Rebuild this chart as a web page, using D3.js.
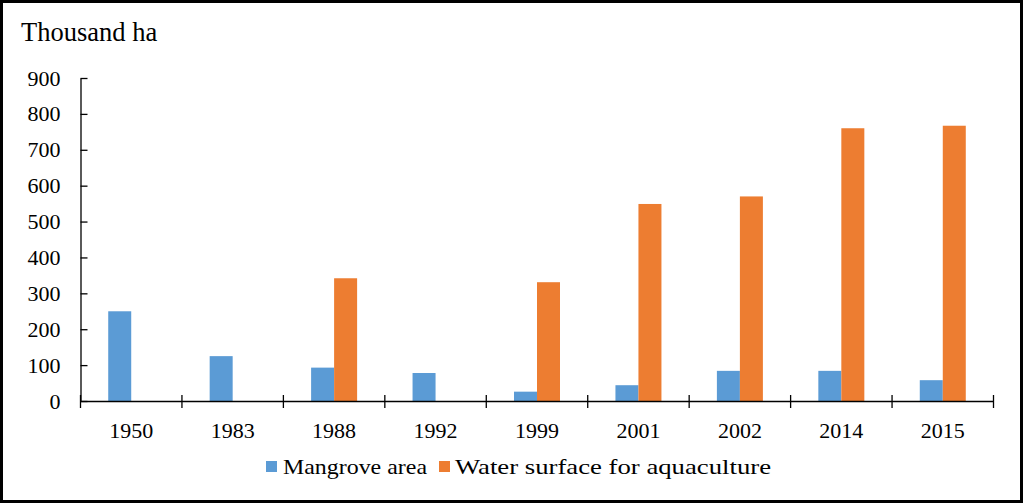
<!DOCTYPE html>
<html><head><meta charset="utf-8">
<script src="https://cdn.jsdelivr.net/npm/d3@7"></script>
<style>body{margin:0;background:#fff}svg{display:block}
text{font-family:"Liberation Serif","Times New Roman","DejaVu Serif",serif;fill:#000}</style>
</head><body>
<svg id="c" width="1024" height="504"></svg>
<script>
const categories = ["1950","1983","1988","1992","1999","2001","2002","2014","2015"];
const mangrove = [250,125,93,78,26,44,84,84,58];
const aquaculture = [0,0,342,0,331,549,570,760,767];
const seriesNames = ["Mangrove area","Water surface for aquaculture"];
const colors = ["#5B9BD5","#ED7D31"];
const yTicks = [0,100,200,300,400,500,600,700,800,900];

const svg = d3.select("#c");
svg.append("rect").attr("x",1.5).attr("y",1.5).attr("width",1020).attr("height",500)
  .attr("fill","#fff").attr("stroke","#000").attr("stroke-width",3);

const x0 = 80.5, x1 = 993.5, yTop = 78, yBot = 401;
const x = d3.scaleBand().domain(categories).range([x0,x1]).padding(0);
const y = d3.scaleLinear().domain([0,900]).range([yBot,yTop]);
const barW = 23;
const data = [mangrove, aquaculture];

data.forEach((vals,si)=>{
  svg.append("g").selectAll("rect").data(categories.map((c,i)=>({c,v:vals[i]})).filter(d=>d.v>0))
    .join("rect")
    .attr("x",d=>x(d.c)+x.bandwidth()/2 - barW + si*barW)
    .attr("width",barW)
    .attr("y",d=>y(d.v))
    .attr("height",d=>yBot-y(d.v))
    .attr("fill",colors[si]);
});

// y axis
const ya = svg.append("g").attr("transform",`translate(${x0},0)`)
  .call(d3.axisLeft(y).tickValues(yTicks).tickSize(6).tickSizeOuter(0).tickPadding(14));
ya.attr("font-family",null).attr("font-size",null);
ya.select(".domain").attr("stroke","#000").attr("stroke-width",1.3);
ya.selectAll(".tick line").attr("x2",7).attr("stroke","#000").attr("stroke-width",1.3);
ya.selectAll("text").style("font-size","22px").attr("fill","#000");

// x axis
const xa = svg.append("g").attr("transform",`translate(0,${yBot})`)
  .call(d3.axisBottom(x).tickSize(0).tickPadding(21));
xa.attr("font-family",null).attr("font-size",null);
xa.select(".domain").attr("stroke","#000").attr("stroke-width",1.3);
xa.selectAll("text").style("font-size","22px").attr("fill","#000");
const bounds = categories.map(c=>x(c)).concat([x1]);
svg.append("g").selectAll("line").data(bounds).join("line")
  .attr("x1",d=>d).attr("x2",d=>d).attr("y1",yBot-6).attr("y2",yBot+7)
  .attr("stroke","#000").attr("stroke-width",1.3);

svg.append("text").attr("x",21).attr("y",41).text("Thousand ha")
  .style("font-size","26.5px");

// legend
const leg = [{x:266,tx:283,w:144},{x:439,tx:455,w:316}];
seriesNames.forEach((n,i)=>{
  svg.append("rect").attr("x",leg[i].x).attr("y",461).attr("width",11).attr("height",11).attr("fill",colors[i]);
  svg.append("text").attr("x",leg[i].tx).attr("y",474).text(n)
    .style("font-size","22px")
    .attr("textLength",leg[i].w).attr("lengthAdjust","spacingAndGlyphs");
});
</script>
</body></html>
